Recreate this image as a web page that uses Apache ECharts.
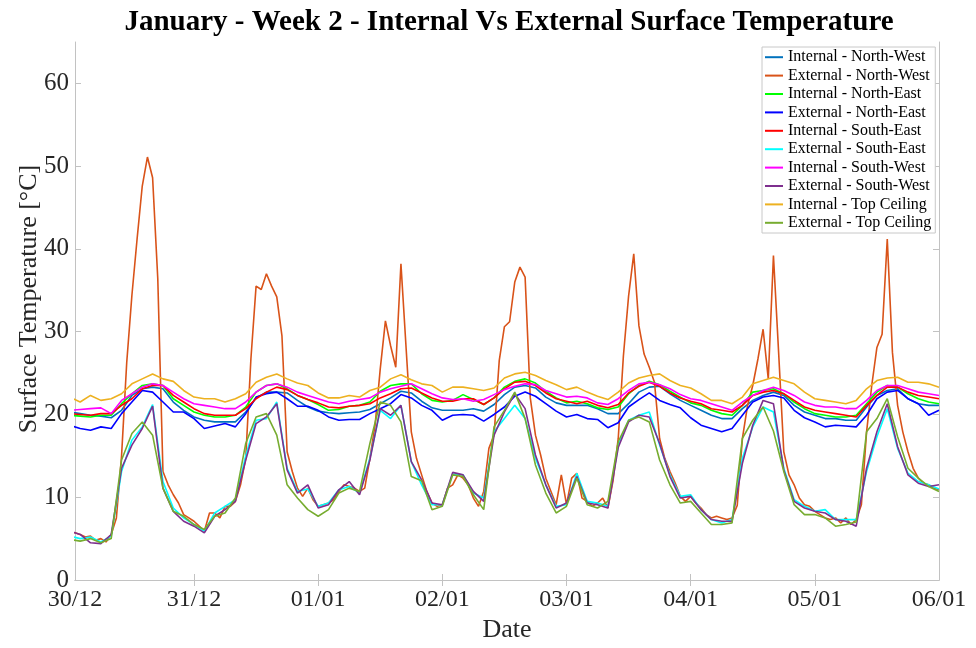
<!DOCTYPE html>
<html><head><meta charset="utf-8">
<script src="https://cdn.jsdelivr.net/npm/echarts@6/dist/echarts.min.js"></script>
<style>html,body{margin:0;padding:0;background:#fff}#c{width:976px;height:648px}</style>
</head><body><div id="c"></div>
<script>
// Hours are counted from 30/12 00:00. Axis runs from hour 1 to hour 168.
const titleText = 'January - Week 2 - Internal Vs External Surface Temperature';
const seriesNames = ['Internal - North-West','External - North-West','Internal - North-East','External - North-East',
  'Internal - South-East','External - South-East','Internal - South-West','External - South-West',
  'Internal - Top Ceiling','External - Top Ceiling'];
const seriesColors = ['#0072BD','#D95319','#00FF00','#0000FF','#FF0000','#00FFFF','#FF00FF','#7E2F8E','#EDB120','#77AC30'];
const dateLabels = ['30/12','31/12','01/01','02/01','03/01','04/01','05/01','06/01'];
const labelHours = [1,24,48,72,96,120,144,168];
const dayTickHours = [24,48,72,96,120,144];
const yTickValues = [0,10,20,30,40,50,60];

// 2-hourly readings (h0, h2, ... h168)
const intNW = [
 20.3,20.1,19.9,19.8,19.6,20.5,22.3,23.1,23.3,23.1,21.5,20.5,
 19.7,19.3,19.1,19.1,19.1,20.3,22.0,22.7,22.7,22.6,21.7,20.9,
 20.4,20.2,20.1,20.2,20.3,20.6,21.3,22.0,22.8,22.6,21.6,20.8,
 20.5,20.5,20.5,20.7,20.4,21.2,22.4,23.3,23.5,23.2,22.1,21.4,
 21.1,21.1,21.1,20.7,20.1,20.1,21.3,22.7,23.3,23.4,22.5,21.7,
 21.1,20.5,19.9,19.5,19.5,20.7,21.7,22.3,22.7,22.3,21.1,20.3,
 19.9,19.5,19.5,19.3,19.3,20.9,22.3,22.9,23.1,21.9,21.3,21.1,
 21.1];
const intNE = [
 19.9,19.8,19.7,19.9,19.9,21.3,22.5,23.5,23.7,23.5,21.9,21.1,
 20.3,19.9,19.7,19.7,19.9,20.9,22.7,23.5,23.7,23.1,22.3,21.8,
 21.2,20.5,20.6,21.0,21.1,21.5,22.8,23.5,23.7,23.7,22.5,21.7,
 21.5,21.7,22.4,21.8,21.2,22.0,23.3,24.0,24.3,23.8,22.8,22.0,
 21.4,21.6,21.3,20.8,20.6,20.9,22.5,23.5,24.0,23.6,22.8,22.1,
 21.4,21.1,20.5,20.1,19.9,21.1,22.7,22.9,23.1,22.5,21.5,20.7,
 20.1,19.9,19.7,19.7,19.9,21.3,22.7,23.5,23.3,22.5,21.9,21.5,
 21.3];
const extNE = [
 18.7,18.3,18.1,18.5,18.3,20.1,21.5,22.9,22.7,21.5,20.3,20.3,
 19.5,18.3,18.6,18.9,18.5,20.1,22.1,22.5,22.7,21.9,21.0,21.0,
 20.5,19.7,19.3,19.4,19.4,20.1,20.7,21.3,22.4,22.0,21.1,20.5,
 19.3,19.9,20.0,19.9,19.2,20.0,20.9,22.2,22.7,22.2,21.3,20.4,
 19.7,20.0,19.5,19.4,18.4,19.0,20.9,21.8,22.6,21.7,21.2,20.8,
 19.6,18.7,18.3,17.9,18.3,19.9,21.5,22.1,22.3,22.0,20.5,19.6,
 19.1,18.5,18.7,18.6,18.5,19.9,21.9,22.7,22.9,21.9,21.3,19.9,
 20.5];
const intSE = [
 20.1,20.0,19.9,20.1,20.1,21.1,21.9,23.1,23.5,23.5,22.3,21.5,
 20.7,20.1,19.9,19.9,19.9,20.7,21.9,22.7,23.3,23.0,22.3,21.8,
 21.4,20.9,20.8,21.0,21.1,21.3,22.0,22.5,23.1,23.2,22.6,22.0,
 21.6,21.6,21.9,21.9,21.2,22.0,23.1,23.9,24.0,23.5,22.6,21.9,
 21.6,21.3,21.6,21.1,20.8,21.2,22.6,23.4,23.9,23.4,22.6,22.0,
 21.6,21.3,20.7,20.5,20.3,21.1,22.3,22.7,22.9,22.5,21.7,20.9,
 20.5,20.3,20.1,19.9,19.7,21.1,22.3,23.3,23.3,22.7,22.3,22.1,
 21.9];
const extSE = [
 5.3,5.0,5.2,4.6,5.3,13.1,16.9,18.5,21.2,11.9,8.7,7.5,
 6.7,5.9,8.1,8.9,9.7,15.0,19.3,19.5,21.5,13.5,10.7,11.0,
 8.9,9.3,10.9,11.3,10.5,14.7,20.5,19.5,21.1,14.3,11.5,9.1,
 9.1,12.8,12.7,10.5,9.9,17.9,19.5,21.1,19.5,14.7,11.5,8.9,
 9.1,12.9,9.5,9.3,8.9,16.3,19.3,19.9,20.3,16.3,12.7,10.1,
 10.3,8.5,7.3,6.9,7.3,14.7,18.5,20.9,20.3,13.5,9.7,8.9,
 8.3,8.5,7.3,7.3,7.3,13.1,17.3,20.7,15.9,12.9,11.9,11.5,
 11.0];
const intSW = [
 20.5,20.6,20.7,20.8,20.1,21.7,22.5,23.3,23.7,23.5,22.7,21.9,
 21.3,21.1,20.9,20.7,20.7,21.5,22.7,23.5,23.7,23.3,22.7,22.3,
 21.9,21.5,21.3,21.6,21.8,22.0,22.7,23.1,23.4,23.7,23.1,22.5,
 22.0,21.8,21.9,21.6,21.8,22.4,23.0,23.4,23.7,23.6,22.9,22.5,
 22.1,22.2,22.0,21.4,21.2,21.9,22.9,23.7,23.9,23.6,23.1,22.4,
 21.9,21.7,21.3,20.9,20.5,21.5,22.3,22.9,23.3,22.9,22.3,21.5,
 21.1,20.9,20.9,20.7,20.7,21.7,22.9,23.5,23.5,23.1,22.7,22.5,
 22.3];
const extSW = [
 5.9,5.5,4.5,4.4,5.5,13.5,16.3,18.3,21.0,11.1,8.3,7.1,
 6.5,5.7,7.7,8.5,9.5,14.5,18.9,19.7,21.3,13.3,10.5,11.5,
 8.7,9.1,10.9,11.9,10.3,14.5,20.7,19.9,21.1,14.3,12.1,9.3,
 9.1,13.0,12.7,10.7,9.5,17.5,20.3,22.5,20.7,15.1,11.5,8.7,
 9.3,12.5,9.3,9.1,8.7,16.0,19.1,19.9,19.7,16.5,12.5,9.9,
 10.1,8.5,7.3,7.1,7.1,14.1,18.7,21.7,21.3,13.3,9.5,8.7,
 8.3,8.1,7.3,7.1,6.5,13.5,17.9,21.3,16.1,12.7,11.7,11.3,
 11.5];
const intTC = [
 22.1,21.5,22.3,21.7,21.9,22.5,23.7,24.3,24.9,24.3,24.0,22.9,
 22.1,21.9,21.9,21.5,21.9,22.5,23.9,24.5,24.9,24.3,23.8,23.5,
 22.6,22.0,22.0,22.3,22.1,22.9,23.3,24.3,24.8,24.2,23.7,23.5,
 22.7,23.3,23.3,23.1,22.9,23.2,24.4,24.9,25.1,24.7,24.1,23.6,
 23.0,23.3,22.7,22.2,21.8,22.7,23.8,24.4,24.7,24.9,24.1,23.5,
 23.2,22.5,21.7,21.7,21.3,22.1,23.7,24.1,24.5,24.1,23.7,22.7,
 21.9,21.7,21.5,21.3,21.7,23.1,24.1,24.4,24.5,23.9,23.9,23.7,
 23.3];
const extTC = [
 4.9,4.7,5.0,4.5,5.0,14.5,17.7,19.1,17.5,11.1,8.3,7.7,
 6.7,6.1,7.7,8.1,9.9,16.5,19.7,20.1,17.5,11.5,9.9,8.5,
 7.7,8.5,10.5,11.1,10.7,16.5,21.5,21.1,19.1,12.5,12.0,8.5,
 8.9,12.7,12.5,10.3,8.5,18.5,20.5,22.7,19.5,13.9,10.5,8.1,
 8.9,12.3,9.1,8.7,9.5,16.7,19.3,19.7,19.1,14.5,11.5,9.3,
 9.5,8.1,6.7,6.7,6.9,17.1,19.3,20.9,18.0,13.1,9.1,7.9,
 7.9,7.5,6.5,6.7,7.0,17.9,19.5,21.9,17.3,13.5,12.3,11.3,
 10.7];
// hourly readings (h0 ... h168)
const extNW = [
 5.8,5.7,5.5,5.2,5.3,4.8,5.0,4.6,5.5,7.5,15.0,26.3,34.4,41.2,47.6,51.1,48.6,36.4,13.1,11.5,10.3,9.3,7.9,7.5,
 7.1,6.5,5.9,8.1,8.1,7.5,8.9,8.9,9.5,11.5,14.7,26.7,35.5,35.1,37.0,35.5,34.2,29.5,15.5,13.1,11.1,10.1,11.1,9.7,
 8.9,9.1,9.3,9.7,10.7,11.5,11.3,11.1,10.7,11.1,14.7,18.7,25.5,31.3,28.3,25.7,38.2,28.0,17.9,14.7,12.7,10.7,9.3,8.9,
 9.1,11.1,11.5,12.7,12.3,11.5,9.9,8.9,10.7,15.9,17.5,26.5,30.6,31.2,36.0,37.8,36.6,22.0,17.5,15.1,12.3,10.7,9.1,12.7,
 9.1,12.3,12.9,9.9,9.5,8.9,9.3,9.9,8.7,12.0,17.1,27.1,34.3,39.4,30.7,27.3,25.7,23.9,17.1,14.7,13.1,11.7,10.1,9.5,
 10.1,9.3,8.7,7.9,7.5,7.7,7.5,7.3,7.5,9.0,17.1,21.1,23.5,26.7,30.3,24.3,39.2,27.5,15.5,12.7,11.5,9.9,9.1,8.9,
 8.3,7.9,7.5,7.3,7.5,6.9,7.5,6.7,7.3,9.1,17.9,23.5,28.1,29.7,41.2,27.5,21.1,17.9,15.5,13.5,12.3,11.7,11.5,11.1,
 10.9];

const seriesValues = [intNW, extNW, intNE, extNE, intSE, extSE, intSW, extSW, intTC, extTC];
const seriesStepHours = [2, 1, 2, 2, 2, 2, 2, 2, 2, 2];

const serif = "'Liberation Serif','Times New Roman',serif";
const axisGray = '#c2c2c2';
const labelColor = '#262626';

function toPoints(vals, step) { return vals.map((v, i) => [i * step, v]); }

const chart = echarts.init(document.getElementById('c'), null, {renderer: 'canvas'});
chart.setOption({
  animation: false,
  backgroundColor: '#fff',
  title: {
    text: titleText, left: 509, top: 8, textAlign: 'center', padding: 0,
    textStyle: {fontFamily: serif, fontWeight: 'bold', fontSize: 29, color: '#000'}
  },
  grid: {left: 75, right: 37, top: 42, bottom: 66},
  legend: {
    orient: 'vertical', left: 762, top: 47, padding: [1, 4, 1, 3], itemGap: 0,
    icon: 'rect', itemWidth: 18, itemHeight: 2, selectedMode: false,
    backgroundColor: '#fff', borderColor: '#c8c8c8', borderWidth: 1,
    textStyle: {fontFamily: serif, fontSize: 16, color: '#000', lineHeight: 18.4},
    data: seriesNames
  },
  xAxis: [{
    type: 'value', min: 1, max: 168, position: 'bottom',
    axisLine: {show: true, lineStyle: {color: axisGray, width: 1}},
    axisTick: {show: true, inside: true, length: 6, customValues: dayTickHours, lineStyle: {color: axisGray}},
    axisLabel: {show: true, customValues: labelHours, showMinLabel: true, showMaxLabel: true, margin: 8,
      fontFamily: serif, fontSize: 24, color: labelColor,
      formatter: v => dateLabels[labelHours.indexOf(Math.round(v))] || ''},
    splitLine: {show: false},
    name: 'Date', nameLocation: 'middle', nameGap: 37, nameMoveOverlap: false,
    nameTextStyle: {fontFamily: serif, fontSize: 26, color: labelColor}
  }, {
    type: 'value', min: 1, max: 168, position: 'top',
    axisLine: {show: true, lineStyle: {color: axisGray, width: 1}},
    axisTick: {show: true, inside: true, length: 6, customValues: dayTickHours, lineStyle: {color: axisGray}},
    axisLabel: {show: false}, splitLine: {show: false}
  }],
  yAxis: [{
    type: 'value', min: 0, max: 65, interval: 10, position: 'left',
    axisLine: {show: true, lineStyle: {color: axisGray, width: 1}},
    axisTick: {show: true, inside: true, length: 6, customValues: yTickValues, lineStyle: {color: axisGray}},
    axisLabel: {show: true, customValues: yTickValues, margin: 6, fontFamily: serif, fontSize: 25, color: labelColor},
    splitLine: {show: false},
    name: 'Surface Temperature [°C]', nameLocation: 'middle', nameGap: 33, nameRotate: 90, nameMoveOverlap: false,
    nameTextStyle: {fontFamily: serif, fontSize: 26, color: labelColor, padding: [0, 0, 0, 24]}
  }, {
    type: 'value', min: 0, max: 65, interval: 10, position: 'right',
    axisLine: {show: true, lineStyle: {color: axisGray, width: 1}},
    axisTick: {show: true, inside: true, length: 6, customValues: yTickValues, lineStyle: {color: axisGray}},
    axisLabel: {show: false}, splitLine: {show: false}
  }],
  series: seriesNames.map((name, k) => ({
    name: name, type: 'line', xAxisIndex: 0, yAxisIndex: 0,
    symbol: 'none', clip: true,
    color: seriesColors[k],
    lineStyle: {width: 1.6, color: seriesColors[k]},
    emphasis: {disabled: true},
    data: toPoints(seriesValues[k], seriesStepHours[k])
  }))
});
</script></body></html>
